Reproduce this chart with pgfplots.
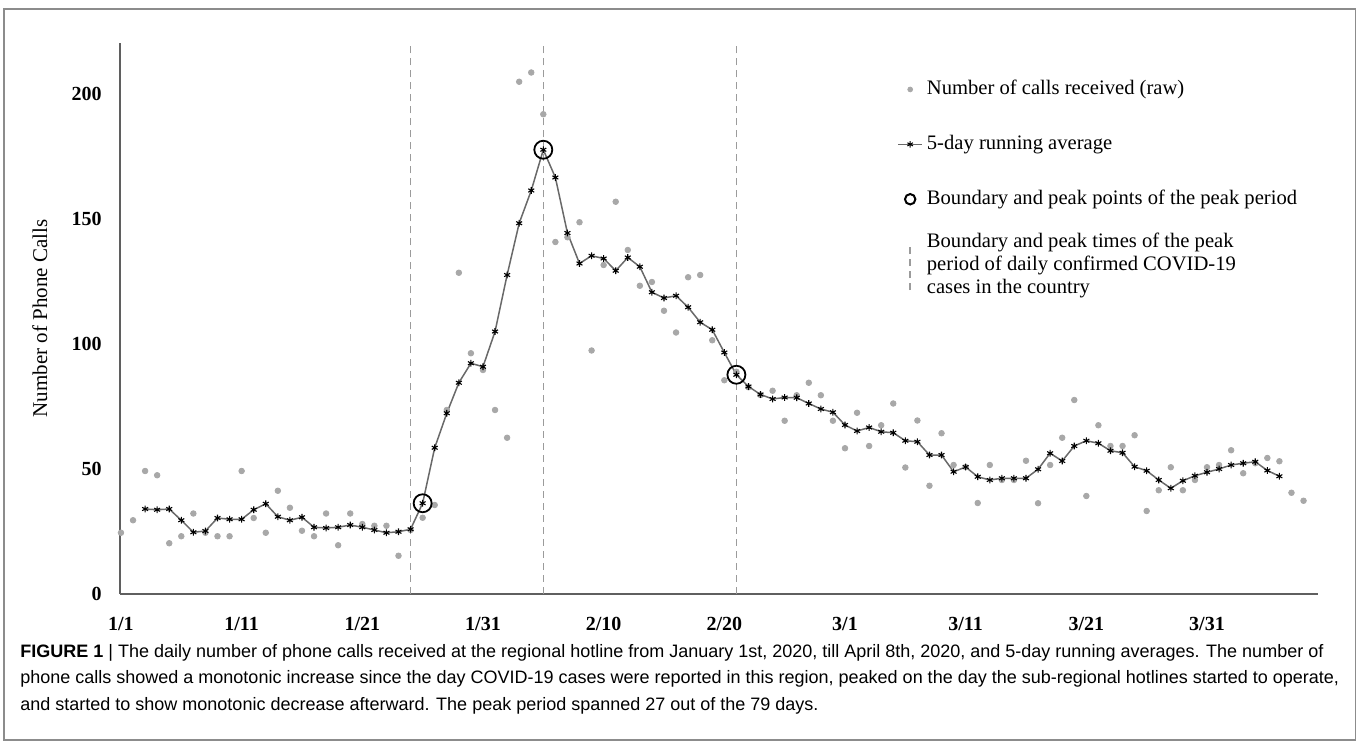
\documentclass[border=0pt]{standalone}
\usepackage{fontspec}
\setmainfont{Liberation Serif}
\newfontfamily\capfont{Liberation Sans}
\usepackage{pgfplots}
\pgfplotsset{compat=1.18}
\usepackage{pgfplotstable}

\definecolor{rawgray}{RGB}{168,168,168}
\definecolor{avgline}{RGB}{105,105,105}
\definecolor{dashgray}{RGB}{155,155,155}
\definecolor{axgray}{RGB}{95,95,95}
\definecolor{framegray}{RGB}{140,140,140}

\pgfplotsset{
  avglegend/.style={legend image code/.code={\draw[mark repeat=2,mark phase=2,##1] plot coordinates {(0.3cm-6pt,0pt) (0.3cm,0pt) (0.3cm+6pt,0pt)};}},
  dashlegend/.style={legend image code/.code={\draw[dashgray, line width=0.75pt, dash pattern=on 3.5pt off 2.5pt] (0.3cm,-10.5pt) -- (0.3cm,12pt);}},
}

\pgfplotstableread{
day val
0 24.3
1 29.3
2 49
3 47.3
4 20.1
5 22.9
6 32
7 24.3
8 22.9
9 22.9
10 49
11 30.2
12 24.3
13 41.1
14 34.3
15 25.1
16 22.9
17 32
18 19.3
19 32
20 27.8
21 27.1
22 27.1
23 15.1
24 25.4
25 30.3
26 35.4
27 73.4
28 128.3
29 96.1
30 89.4
31 73.4
32 62.3
33 204.7
34 208.4
35 191.7
36 140.6
37 142.5
38 148.5
39 97.2
40 131.4
41 156.7
42 137.4
43 123.1
44 124.6
45 113.1
46 104.4
47 126.5
48 127.4
49 101.3
50 85.3
51 88.7
52 82.5
53 79.4
54 81.1
55 69.1
56 79.3
57 84.3
58 79.3
59 69.1
60 58.1
61 72.3
62 59
63 67.3
64 76
65 50.4
66 69.2
67 43.1
68 64.1
69 51.4
70 50.6
71 36.2
72 51.4
73 45.4
74 45.4
75 53.1
76 36.1
77 51.4
78 62.3
79 77.4
80 39
81 67.3
82 59
83 59
84 63.3
85 33
86 41.3
87 50.5
88 41.3
89 45.4
90 50.5
91 51.4
92 57.3
93 48.1
94 52.1
95 54.2
96 52.9
97 40.3
98 37.1
}\rawdata

\pgfplotstableread{
day val
2 33.8
3 33.5
4 33.8
5 29.3
6 24.5
7 25.0
8 30.2
9 29.7
10 29.7
11 33.5
12 35.9
13 30.7
14 29.3
15 30.5
16 26.5
17 26.2
18 26.5
19 27.4
20 26.5
21 25.4
22 24.3
23 24.7
24 25.7
25 36.1
26 58.3
27 72.1
28 84.3
29 92.1
30 90.7
31 104.8
32 127.4
33 148.1
34 161.2
35 177.5
36 166.4
37 144.2
38 132
39 135.1
40 134
41 129.1
42 134.4
43 130.7
44 120.5
45 118.2
46 119.1
47 114.5
48 108.5
49 105.5
50 96.4
51 87.5
52 82.8
53 79.6
54 77.8
55 78.4
56 78.3
57 76
58 73.8
59 72.5
60 67.4
61 65
62 66.4
63 64.7
64 64.3
65 61.1
66 60.7
67 55.4
68 55.4
69 48.7
70 50.6
71 46.7
72 45.4
73 46.1
74 46.1
75 46.1
76 49.7
77 56.1
78 53
79 59
80 61.1
81 60.1
82 57.1
83 56.3
84 50.7
85 49.1
86 45.4
87 42.1
88 45.1
89 47.1
90 48.5
91 49.8
92 51.4
93 52.1
94 52.7
95 49.2
96 46.9
}\avgdata

\begin{document}
\begin{tikzpicture}[x=1pt,y=1pt]
\useasboundingbox (-60,-75.25) rectangle (619,296.75);
\draw[framegray, line width=0.7pt] (-58,-73.25) rectangle (617.85,292.25);
\begin{axis}[
  at={(0,0)}, anchor=south west,
  scale only axis, width=599pt, height=275pt,
  xmin=-0.08, xmax=99.2, ymin=0, ymax=220,
  axis x line*=bottom, axis y line*=left,
  axis line style={-},
  x axis line style={draw=axgray, line width=1pt},
  y axis line style={draw=axgray, line width=0.7pt},
  xtick={0,10,...,90},
  xticklabels={1/1,1/11,1/21,1/31,2/10,2/20,3/1,3/11,3/21,3/31},
  ytick={0,50,100,150,200},
  major tick length=0pt,
  /pgf/number format/assume math mode=true,
  tick label style={font=\fontsize{10}{12}\selectfont\bfseries},
  xticklabel style={yshift=-8.5pt},
  yticklabel style={xshift=-5.7pt},
  ylabel={Number of Phone Calls},
  ylabel style={at={(axis description cs:-0.067,0.5)}, anchor=center, font=\fontsize{10.5}{12.5}\selectfont},
  clip=false,
  legend style={at={(axis description cs:0.6486,0.9412)}, anchor=north west,
    draw=none, fill=none, row sep=14.25pt, inner sep=0pt,
    font=\fontsize{10.3}{11.4}\selectfont,
    cells={anchor=west, align=left, inner ysep=0pt, inner xsep=1.8pt}},
  legend cell align=left,
]
% vertical dashed reference lines
\addplot[forget plot, dashgray, line width=0.75pt, dash pattern=on 3.5pt off 2.5pt] coordinates {(24,0) (24,220)};
\addplot[forget plot, dashgray, line width=0.75pt, dash pattern=on 3.5pt off 2.5pt] coordinates {(35,0) (35,220)};
\addplot[forget plot, dashgray, line width=0.75pt, dash pattern=on 3.5pt off 2.5pt] coordinates {(51,0) (51,220)};
% raw
\addplot[forget plot, only marks, mark=*, mark size=1.4pt, rawgray] table[x=day,y=val] {\rawdata};
% running average
\addplot[forget plot, avgline, line width=0.75pt, mark=asterisk, mark size=1.7pt,
  mark options={black, solid, line width=0.55pt}] table[x=day,y=val] {\avgdata};
% boundary / peak circles
\addplot[forget plot, only marks, mark=o, mark size=4.5pt, black, line width=0.9pt] coordinates {(25,36.1) (35,177.5) (51,87.5)};

\addlegendimage{only marks, mark=*, mark size=1.2pt, rawgray}
\addlegendentry[text height=7pt, text depth=2.2pt]{Number of calls received (raw)}
\addlegendimage{avgline, line width=0.75pt, mark=asterisk, mark size=1.6pt,
  mark options={black, solid, line width=0.5pt}, avglegend}
\addlegendentry[text height=7pt, text depth=2.2pt]{5-day running average}
\addlegendimage{only marks, mark=o, mark size=2.6pt, black, line width=1pt}
\addlegendentry[text height=7pt, text depth=2.2pt]{Boundary and peak points of the peak period}
\addlegendimage{dashlegend}
\addlegendentry[text height=24.1pt, text depth=0pt]{Boundary and peak times of the peak\\period of daily confirmed COVID-19\\cases in the country}
\end{axis}
\node[anchor=base west, inner sep=0pt, align=left, font=\capfont\fontsize{9.0}{13.25}\selectfont] at (-50,-58.25)
{\textbf{FIGURE 1} | The daily number of phone calls received at the regional hotline from January 1st, 2020, till April 8th, 2020, and 5-day running averages. The number of\\
phone calls showed a monotonic increase since the day COVID-19 cases were reported in this region, peaked on the day the sub-regional hotlines started to operate,\\
and started to show monotonic decrease afterward. The peak period spanned 27 out of the 79 days.};
\end{tikzpicture}
\end{document}
